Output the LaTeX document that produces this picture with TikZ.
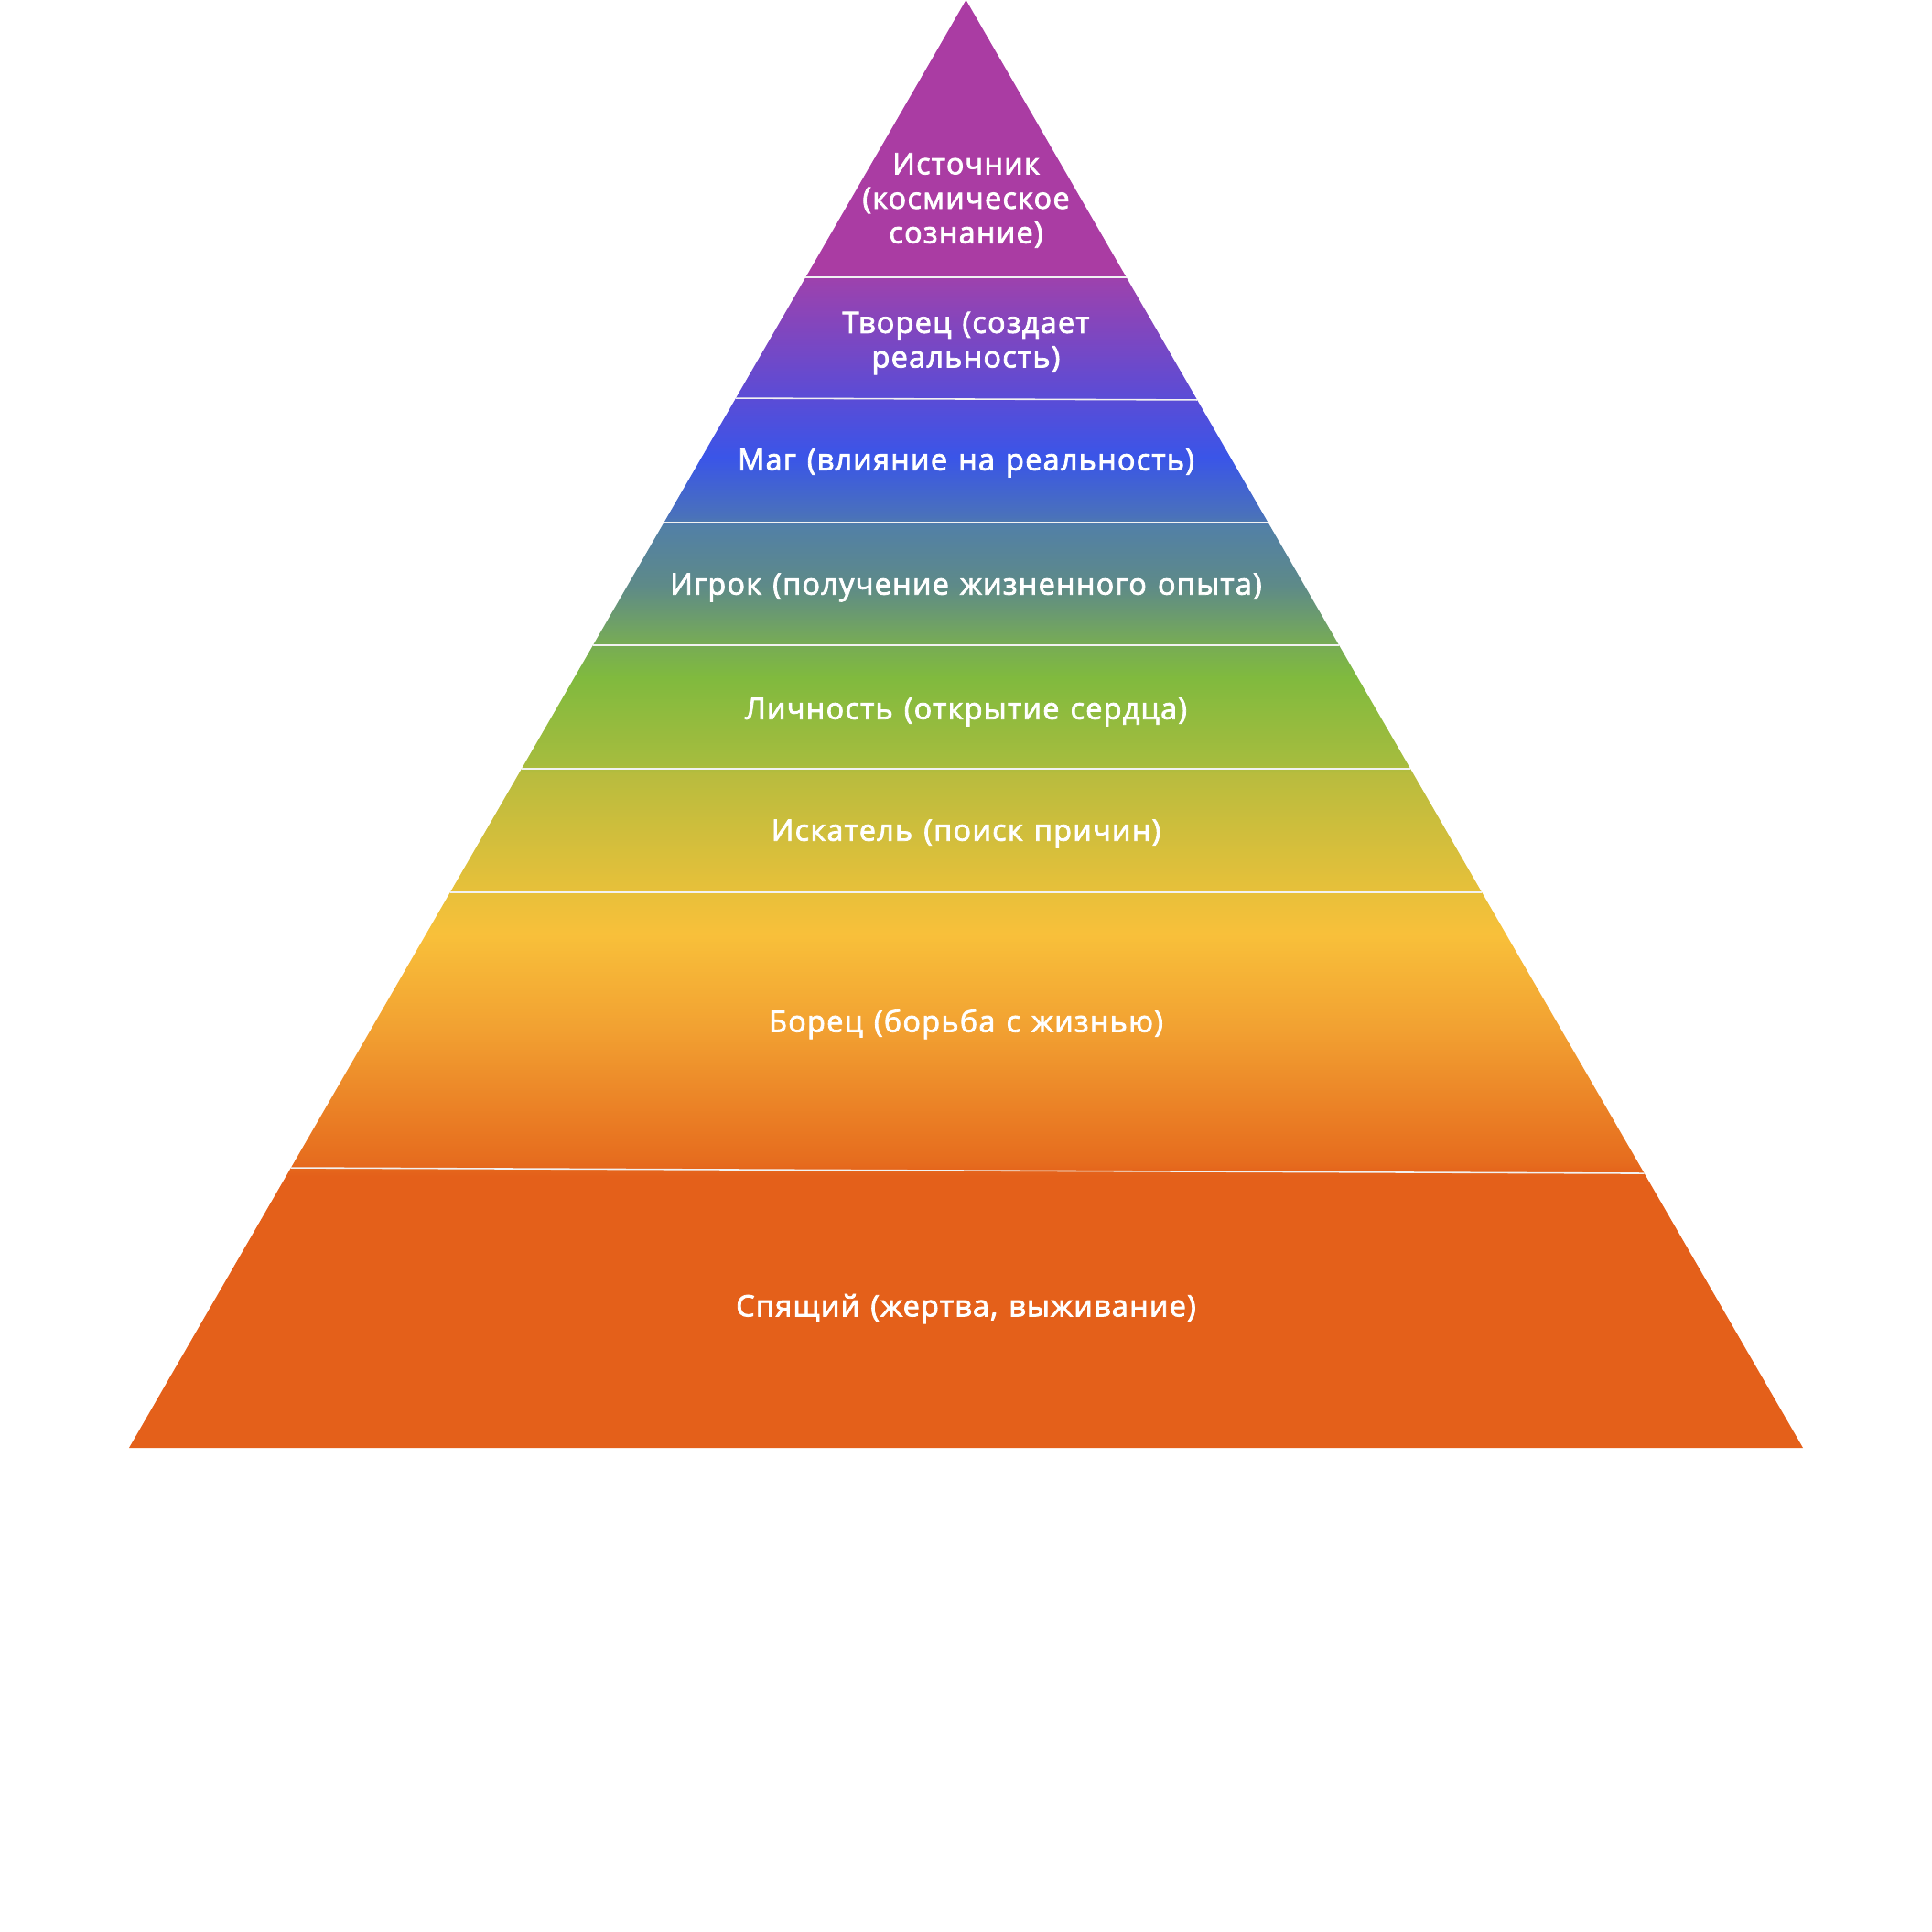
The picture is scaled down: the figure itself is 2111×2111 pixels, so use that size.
\documentclass[tikz,border=0pt]{standalone}
\usepackage{fontspec}
\setmainfont{Open Sans}
\newfontfamily\lvlfont{Open Sans}[FakeBold=2.5,LetterSpace=4,WordSpace=1.25]
\usetikzlibrary{calc}
\definecolor{srcpurple}{HTML}{AA3CA3}
\definecolor{crtviolet}{HTML}{9C42AE}
\definecolor{crtindigo}{HTML}{5A4CD6}
\definecolor{magblue}{HTML}{3A55E8}
\definecolor{magsteel}{HTML}{4A72BA}
\definecolor{plyslate}{HTML}{5280A6}
\definecolor{plyteal}{HTML}{5E8A88}
\definecolor{plygreen}{HTML}{76AA58}
\definecolor{pergreen}{HTML}{80BA3E}
\definecolor{perolive}{HTML}{A6BC3E}
\definecolor{skolive}{HTML}{B8BC3E}
\definecolor{skgold}{HTML}{E6C03A}
\definecolor{fgtgold}{HTML}{F8C03A}
\definecolor{fgtamber}{HTML}{F2A232}
\definecolor{fgtorange}{HTML}{E66C1E}
\definecolor{slporange}{HTML}{E4601A}
% colour stops: bottom of pyramid = 25bp, apex = 75bp
\pgfdeclareverticalshading{pyrshade}{100bp}{color(0bp)=(slporange); color(25bp)=(slporange); color(34.39bp)=(slporange); color(34.86bp)=(fgtorange); color(39.6bp)=(fgtamber); color(42.76bp)=(fgtgold); color(44.34bp)=(skgold); color(48.29bp)=(skolive); color(48.61bp)=(perolive); color(51.61bp)=(pergreen); color(52.88bp)=(plygreen); color(54.77bp)=(plyteal); color(56.83bp)=(plyslate); color(57.14bp)=(magsteel); color(59.2bp)=(magblue); color(61.25bp)=(crtindigo); color(65.33bp)=(crtviolet); color(65.52bp)=(srcpurple); color(75bp)=(srcpurple); color(100bp)=(srcpurple)}

\begin{document}
\begin{tikzpicture}[
  x=0.01cm,y=-0.01cm,
  lvl/.style={font=\lvlfont\fontsize{9.2}{10.7}\selectfont, text=white, align=center, inner sep=0pt},
  sep/.style={draw=white!90!gray, line width=0.45pt},
]
\useasboundingbox (0,0) rectangle (2111,2111);
\coordinate (apex) at (1055.5,0);
\coordinate (bl) at (141,1582);
\coordinate (br) at (1970,1582);
% body
\shade[shading=pyrshade] (apex) -- (bl) -- (br) -- cycle;
% band borders
\foreach \tl/\tr in {0.1915/0.1915,0.275/0.2762,0.3609/0.3609,0.4456/0.4456,0.531/0.531,0.6163/0.6163,0.8066/0.8104}
  \draw[sep] ($(apex)!\tl!(bl)$) -- ($(apex)!\tr!(br)$);
% levels
\node[lvl] (source) at (1055.5,219) {Источник\\(космическое\\сознание)};
\node[lvl] (creator) at (1055.5,375) {Творец (создает\\реальность)};
\node[lvl] (mage) at (1055.5,506) {Маг (влияние на реальность)};
\node[lvl] (player) at (1055.5,642) {Игрок (получение жизненного опыта)};
\node[lvl] (person) at (1055.5,778) {Личность (открытие сердца)};
\node[lvl] (seeker) at (1055.5,911) {Искатель (поиск причин)};
\node[lvl] (fighter) at (1055.5,1119) {Борец (борьба с жизнью)};
\node[lvl] (sleeper) at (1055.5,1430) {Спящий (жертва, выживание)};
\end{tikzpicture}
\end{document}
